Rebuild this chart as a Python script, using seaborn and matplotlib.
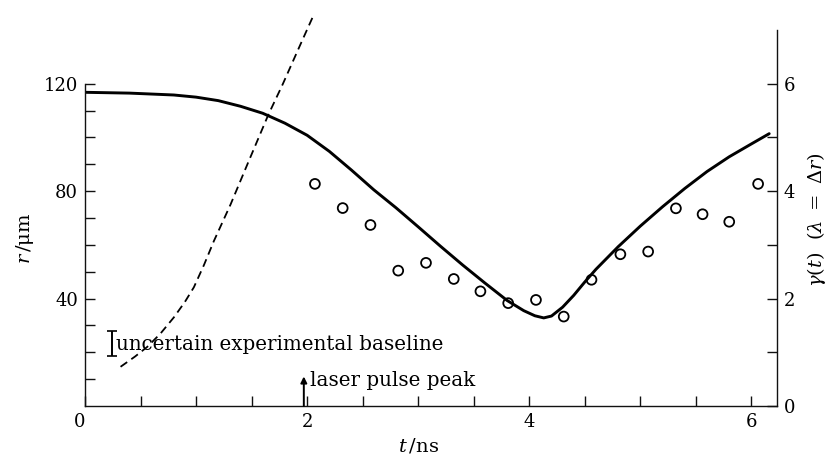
import numpy as np
import pandas as pd
import matplotlib
matplotlib.use("Agg")
import matplotlib.pyplot as plt
import seaborn as sns

# ---- data ----
t_theory = [0.0, 0.4, 0.8, 1.0, 1.2, 1.4, 1.6, 1.8, 2.0, 2.2, 2.4, 2.6, 2.8, 3.0,
            3.2, 3.4, 3.6, 3.8, 3.95, 4.05, 4.13, 4.2, 4.3, 4.4, 4.5, 4.6, 4.8,
            5.0, 5.2, 5.4, 5.6, 5.8, 6.0, 6.16]
r_theory = [116.8, 116.5, 115.8, 115.0, 113.7, 111.6, 109.0, 105.3, 100.8, 94.8,
            87.8, 80.5, 73.8, 66.7, 59.5, 52.5, 45.8, 39.3, 35.5, 33.6, 32.8, 33.5,
            36.8, 41.2, 46.2, 50.9, 59.3, 67.0, 74.2, 81.0, 87.3, 92.8, 97.6, 101.4]

t_exp = [2.07, 2.32, 2.57, 2.82, 3.07, 3.32, 3.56, 3.81, 4.06, 4.31, 4.56, 4.82,
         5.07, 5.32, 5.56, 5.80, 6.06]
r_exp = [82.7, 73.7, 67.4, 50.4, 53.3, 47.3, 42.7, 38.3, 39.5, 33.3, 47.0, 56.5,
         57.5, 73.6, 71.4, 68.6, 82.7]

t_gamma = [0.32, 0.45, 0.56, 0.68, 0.80, 0.90, 0.98, 1.07, 1.16, 1.31, 1.46, 1.65,
           1.78, 1.95, 2.05]
gamma = [0.73, 0.92, 1.10, 1.35, 1.65, 1.94, 2.21, 2.62, 3.07, 3.75, 4.49, 5.42,
         5.99, 6.78, 7.24]

x_major = [0, 2, 4, 6]
x_minor = [0.5, 1, 1.5, 2.5, 3, 3.5, 4.5, 5, 5.5]
yl_major = [40, 80, 120]
yl_minor = [10, 20, 30, 50, 60, 70, 90, 100, 110]
yr_major = [0, 2, 4, 6]
yr_minor = [1, 3, 5]

# annotation anchors
baseline_t, baseline_r, baseline_err = 0.245, 23.3, 4.8
pulse_t, pulse_r = 1.97, 11.0

# ---- style ----
sns.set_style("ticks")
plt.rcParams['font.family'] = ['DejaVu Serif']
plt.rcParams['mathtext.fontset'] = 'dejavuserif'
for k in ('text.color', 'axes.labelcolor', 'xtick.color', 'ytick.color',
          'axes.edgecolor'):
    plt.rcParams[k] = 'black'

W, H = 829, 461
fig = plt.figure(figsize=(W / 100, H / 100), dpi=100)
ax = fig.add_axes([85 / W, 55 / H, 692 / W, 376 / H])
ax2 = ax.twinx()
ax2.set_position([85 / W, 55 / H, 692 / W, 376 / H])

df_th = pd.DataFrame({"t": t_theory, "r": r_theory})
df_ex = pd.DataFrame({"t": t_exp, "r": r_exp})
df_g = pd.DataFrame({"t": t_gamma, "g": gamma})

sns.lineplot(data=df_th, x="t", y="r", ax=ax, color="black", lw=2.1,
             sort=False, estimator=None)
ax.get_lines()[-1].set_solid_joinstyle('round')
sns.scatterplot(data=df_ex, x="t", y="r", ax=ax, marker="o", s=50,
                facecolor="none", edgecolor="black", linewidth=1.3, zorder=3)
sns.lineplot(data=df_g, x="t", y="g", ax=ax2, color="black", lw=1.3,
             sort=False, estimator=None)
gl = ax2.get_lines()[-1]
gl.set_dashes((4.5, 2.8))
gl.set_clip_on(False)

ax.set_xlim(0, 6.23)
ax.set_ylim(0, 140)
ax2.set_ylim(0, 7)

for a in (ax, ax2):
    a.set_xlabel("")
    a.set_ylabel("")
    a.spines['top'].set_visible(False)
    for s in a.spines.values():
        s.set_linewidth(1.0)
        s.set_color("#111111")

ax.spines['right'].set_visible(False)
ax2.spines['left'].set_visible(False)
ax2.spines['bottom'].set_visible(False)
ax.spines['left'].set_bounds(0, 120)

ax.set_xticks(x_major)
ax.set_xticks(x_minor, minor=True)
ax.set_yticks(yl_major)
ax.set_yticks(yl_minor, minor=True)
ax2.set_yticks(yr_major)
ax2.set_yticks(yr_minor, minor=True)

ax.tick_params(axis='both', which='both', direction='in', length=7, width=1.0,
               labelsize=13, pad=5, color="#111111", labelcolor='black')
ax2.tick_params(axis='y', which='both', direction='in', length=7, width=1.0,
                labelsize=13, pad=5, color="#111111", labelcolor='black')
ax.set_xticklabels([str(v) for v in x_major])
ax.set_yticklabels([str(v) for v in yl_major])
ax2.set_yticklabels([str(v) for v in yr_major])
ax.get_xticklabels()[0].set_horizontalalignment('right')

# annotations
ax.errorbar([baseline_t], [baseline_r], yerr=[baseline_err], fmt='none',
            ecolor='black', elinewidth=1.4, capsize=3.5, capthick=1.2)
ax.text(baseline_t + 0.03, baseline_r - 0.5, "uncertain experimental baseline",
        fontsize=14.3, va='center', ha='left', color='black')
ax.annotate("", xy=(pulse_t, pulse_r), xytext=(pulse_t, 0),
            arrowprops=dict(arrowstyle='-|>', color='black', lw=1.4,
                            mutation_scale=9, shrinkA=0, shrinkB=0))
ax.text(pulse_t + 0.06, pulse_r - 1.5, "laser pulse peak", fontsize=14.3,
        va='center', ha='left', color='black')

fig.text(419 / W, 1 - 446 / H, r"$t\,/\mathrm{ns}$", fontsize=14,
         ha='center', va='center')
fig.text(25 / W, 1 - 238 / H, r"$r\,/\mathrm{\mu m}$", fontsize=14,
         ha='center', va='center', rotation=90)
fig.text(817 / W, 1 - 220 / H, r"$\gamma(t)\ \ (\lambda\ =\ \Delta r)$",
         fontsize=14, ha='center', va='center', rotation=90)

fig.savefig("out.png", dpi=100, facecolor="white")
